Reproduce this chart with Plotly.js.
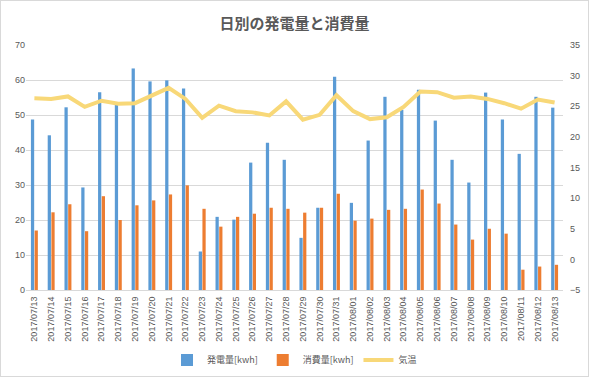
<!DOCTYPE html>
<html>
<head>
<meta charset="utf-8">
<script src="https://cdn.plot.ly/plotly-3.0.1.min.js"></script>
<style>
html,body{margin:0;padding:0;background:#fff;}
#chart{width:589px;height:377px;box-sizing:border-box;border:1px solid #d9d9d9;}
</style>
</head>
<body>
<div id="chart"></div>
<script>
const dates = ["2017/07/13","2017/07/14","2017/07/15","2017/07/16","2017/07/17","2017/07/18","2017/07/19","2017/07/20","2017/07/21","2017/07/22","2017/07/23","2017/07/24","2017/07/25","2017/07/26","2017/07/27","2017/07/28","2017/07/29","2017/07/30","2017/07/31","2017/08/01","2017/08/02","2017/08/03","2017/08/04","2017/08/05","2017/08/06","2017/08/07","2017/08/08","2017/08/09","2017/08/10","2017/08/11","2017/08/12","2017/08/13"];
const generation = [48.7,44.2,52.2,29.3,56.5,52.9,63.3,59.6,59.9,57.6,11.0,20.9,20.1,36.4,42.1,37.2,14.9,23.5,60.9,24.9,42.7,55.2,51.5,57.2,48.4,37.2,30.7,56.4,48.7,38.9,55.2,52.1];
const consumption = [17.0,22.2,24.5,16.8,26.8,20.0,24.2,25.6,27.3,29.9,23.2,18.1,20.9,21.8,23.5,23.2,22.1,23.5,27.5,19.8,20.4,22.9,23.2,28.7,24.7,18.7,14.4,17.5,16.1,5.8,6.7,7.2];
const temperature = [26.3,26.2,26.6,24.9,25.9,25.4,25.5,26.7,28.0,26.2,23.1,25.1,24.2,24.0,23.5,25.8,22.8,23.6,26.8,24.2,22.9,23.2,24.9,27.4,27.3,26.4,26.6,26.2,25.5,24.6,26.1,25.6];

const fontFam = "Liberation Sans, Arial, Noto Sans CJK JP, sans-serif";
const traces = [
  {type:'bar', name:'発電量[kwh]', x:dates, y:generation, marker:{color:'#5B9BD5'}},
  {type:'bar', name:'消費量[kwh]', x:dates, y:consumption, marker:{color:'#ED7D31'}},
  {type:'scatter', mode:'lines', name:'気温', x:dates, y:temperature, yaxis:'y2',
   line:{color:'#F8D878', width:4}}
];
const layout = {
  width:587, height:375,
  margin:{l:25,r:25,t:44,b:86, autoexpand:false},
  paper_bgcolor:'#fff', plot_bgcolor:'#fff',
  font:{family:fontFam, size:9, color:'#595959'},
  title:{text:'日別の発電量と消費量', x:0.5, xanchor:'center', y:0.94, yanchor:'middle',
         font:{family:"Noto Sans CJK JP, sans-serif", size:15, color:'#595959', weight:700}},
  barmode:'group', bargap:0.56, bargroupgap:0.12,
  showlegend:true,
  legend:{orientation:'h', x:0.5, xanchor:'center', yref:'container', y:0.043, yanchor:'middle',
          itemwidth:30,
          bgcolor:'rgba(0,0,0,0)', font:{family:"Noto Sans CJK JP, sans-serif", size:9, color:'#595959'}},
  xaxis:{type:'category', tickangle:-90, showgrid:false, showline:true, linecolor:'#d9d9d9',
         ticks:'', automargin:false, ticklabelstandoff:2, tickfont:{size:9, color:'#595959'}},
  yaxis:{range:[0,70], dtick:10, showgrid:true, gridcolor:'#d9d9d9', zeroline:false,
         showline:false, ticks:'', automargin:false, tickfont:{size:9,color:'#595959'}},
  yaxis2:{range:[-5,35], dtick:5, overlaying:'y', side:'right', showgrid:false, zeroline:false,
          showline:false, ticks:'', automargin:false, ticklabelstandoff:6, tickfont:{size:9,color:'#595959'}}
};
Plotly.newPlot('chart', traces, layout, {displayModeBar:false});
</script>
</body>
</html>
